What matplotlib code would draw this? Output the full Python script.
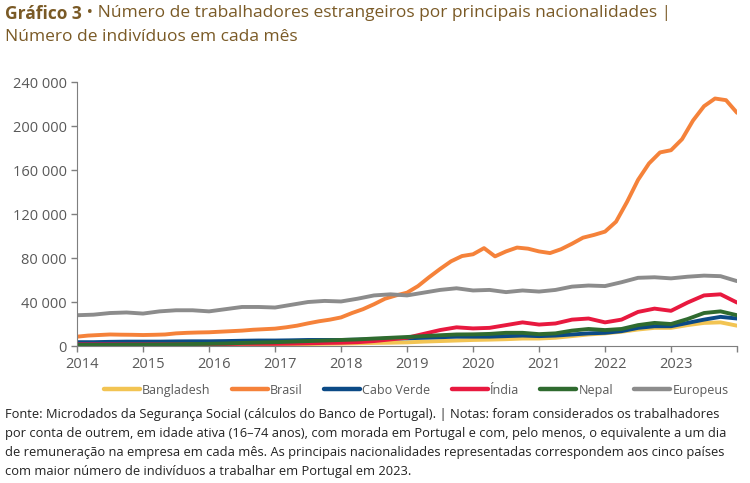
import numpy as np
import matplotlib
matplotlib.use('Agg')
import matplotlib.pyplot as plt
from matplotlib.ticker import FuncFormatter

plt.rcParams['font.family'] = ['Open Sans', 'DejaVu Sans']

# quarterly grid (Jan 2014 .. Jan 2024), values in thousands
anos_q = 2014 + np.arange(41) / 4
# bimonthly grid for Brasil (sharper moves)
anos_b = 2014 + np.arange(61) / 6

bangladesh = [0.5, 0.5, 0.5, 0.5, 0.6, 0.6, 0.7, 0.8, 0.8, 0.9,
              1.0, 1.2, 1.3, 1.5, 1.8, 2.0, 2.2, 2.5, 2.8, 3.0,
              3.3, 4.0, 4.5, 5.0, 5.5, 5.8, 6.2, 6.8, 6.8, 7.5,
              9.0, 10.5, 11.5, 13.0, 15.0, 16.5, 16.5, 19.0, 21.0, 21.5,
              18.5]
brasil = [8.5, 9.5, 10.0, 10.5, 10.3, 10.2, 10.0, 10.2, 10.5, 11.5,
          12.0, 12.3, 12.5, 13.0, 13.5, 14.0, 14.8, 15.3, 15.8, 17.0,
          18.5, 20.6, 22.5, 24.0, 26.0, 30.0, 33.5, 38.0, 43.0, 46.0,
          48.5, 54.5, 62.5, 70.0, 77.0, 81.8, 83.4, 89.0, 81.5, 86.0,
          89.5, 88.5, 86.0, 84.5, 88.0, 93.0, 98.5, 101.0, 104.0, 113.0,
          131.0, 151.0, 166.0, 176.0, 178.0, 188.0, 205.0, 218.0, 225.0, 223.5,
          212.0]
cabo_verde = [3.5, 3.5, 3.8, 4.0, 4.0, 4.0, 4.2, 4.3, 4.3, 4.5,
              4.8, 5.0, 5.0, 5.2, 5.5, 5.5, 5.5, 5.8, 6.2, 6.8,
              7.0, 7.5, 8.0, 8.5, 8.5, 8.5, 9.0, 9.5, 9.0, 9.5,
              10.5, 11.5, 12.0, 13.5, 16.5, 18.0, 18.0, 21.0, 24.0, 26.5,
              25.0]
india = [1.5, 1.5, 1.5, 1.5, 1.5, 1.5, 1.5, 1.8, 1.8, 1.8,
         2.0, 2.0, 2.0, 2.2, 2.5, 2.8, 3.0, 3.5, 4.5, 6.0,
         7.5, 11.0, 14.5, 17.0, 16.0, 16.5, 19.0, 21.5, 19.5, 20.5,
         24.0, 25.0, 21.5, 24.0, 31.0, 34.0, 32.0, 39.5, 46.0, 47.0,
         39.5]
nepal = [1.0, 1.0, 1.0, 1.2, 1.2, 1.3, 1.5, 1.8, 2.0, 2.3,
         2.8, 3.2, 3.5, 4.0, 4.5, 5.0, 5.5, 6.0, 6.8, 7.5,
         8.2, 9.0, 9.8, 10.5, 10.6, 11.0, 12.0, 12.0, 10.8, 11.5,
         14.0, 15.5, 14.5, 15.5, 19.0, 21.0, 20.0, 24.5, 30.0, 31.5,
         28.0]
europeus = [28.0, 28.5, 30.0, 30.5, 29.5, 31.5, 32.5, 32.5, 31.5, 33.5,
            35.5, 35.5, 35.0, 37.5, 40.0, 41.0, 40.5, 43.0, 46.0, 47.0,
            46.0, 48.5, 51.0, 52.5, 50.5, 51.0, 49.0, 50.5, 49.5, 51.0,
            54.0, 55.0, 54.5, 58.0, 62.0, 62.5, 61.5, 63.0, 64.0, 63.5,
            59.0]

series = [
    ('Bangladesh', anos_q, bangladesh, '#f2c453'),
    ('Brasil', anos_b, brasil, '#f5823a'),
    ('Cabo Verde', anos_q, cabo_verde, '#0b4a86'),
    ('Índia', anos_q, india, '#e8193f'),
    ('Nepal', anos_q, nepal, '#2f6b2f'),
    ('Europeus', anos_q, europeus, '#8c8c8c'),
]
anos_lbl = list(range(2014, 2024))

titulo_cor = '#7a5a26'
cinza = '#595959'

fig = plt.figure(figsize=(7.5, 4.83), dpi=100)
ax = fig.add_axes([0.1027, 0.2836, 0.88, 0.5466])

for nome, x, y, cor in series:
    ax.plot(x, np.array(y) * 1000, color=cor, lw=2.8, label=nome,
            solid_capstyle='round', solid_joinstyle='round')

ax.set_xlim(2014, 2024)
ax.set_ylim(0, 240000)
ax.set_yticks(np.arange(0, 240001, 40000))
ax.yaxis.set_major_formatter(FuncFormatter(lambda v, p: f'{int(v):,}'.replace(',', ' ')))
ax.set_xticks(range(2014, 2025))
ax.set_xticklabels([])
ax.set_xticks([a + 0.08 for a in anos_lbl], minor=True)
ax.set_xticklabels([str(a) for a in anos_lbl], minor=True)
ax.tick_params(axis='x', which='minor', length=0, pad=8)
ax.tick_params(axis='both', which='major', length=4, color='#7f7f7f', width=1)
ax.tick_params(axis='both', which='both', labelsize=10.5, labelcolor=cinza)
for s in ['top', 'right']:
    ax.spines[s].set_visible(False)
for s in ['left', 'bottom']:
    ax.spines[s].set_color('#7f7f7f')

leg = ax.legend(loc='upper center', bbox_to_anchor=(0.514, -0.1), ncol=6, frameon=False,
                fontsize=9, handlelength=2.9, handletextpad=0.15, columnspacing=1.7,
                labelcolor=cinza)
for h in leg.get_lines():
    h.set_linewidth(3.2)

# title
t1 = fig.text(0.007, 0.99, 'Gráfico 3', fontsize=12.5, fontweight='bold',
              color=titulo_cor, va='top')
fig.canvas.draw()
bb = t1.get_window_extent(fig.canvas.get_renderer())
fig.text(bb.x1 / fig.bbox.width, 0.99,
         ' • Número de trabalhadores estrangeiros por principais nacionalidades |',
         fontsize=12.5, color=titulo_cor, va='top')
fig.text(0.007, 0.94, 'Número de indivíduos em cada mês', fontsize=12.5,
         color=titulo_cor, va='top')

nota = ('Fonte: Microdados da Segurança Social (cálculos do Banco de Portugal). | Notas: foram considerados os trabalhadores\n'
        'por conta de outrem, em idade ativa (16–74 anos), com morada em Portugal e com, pelo menos, o equivalente a um dia\n'
        'de remuneração na empresa em cada mês. As principais nacionalidades representadas correspondem aos cinco países\n'
        'com maior número de indivíduos a trabalhar em Portugal em 2023.')
fig.text(0.007, 0.155, nota, fontsize=9.3, color='#222222', va='top', linespacing=1.6)

fig.savefig('out.png', dpi=100)
